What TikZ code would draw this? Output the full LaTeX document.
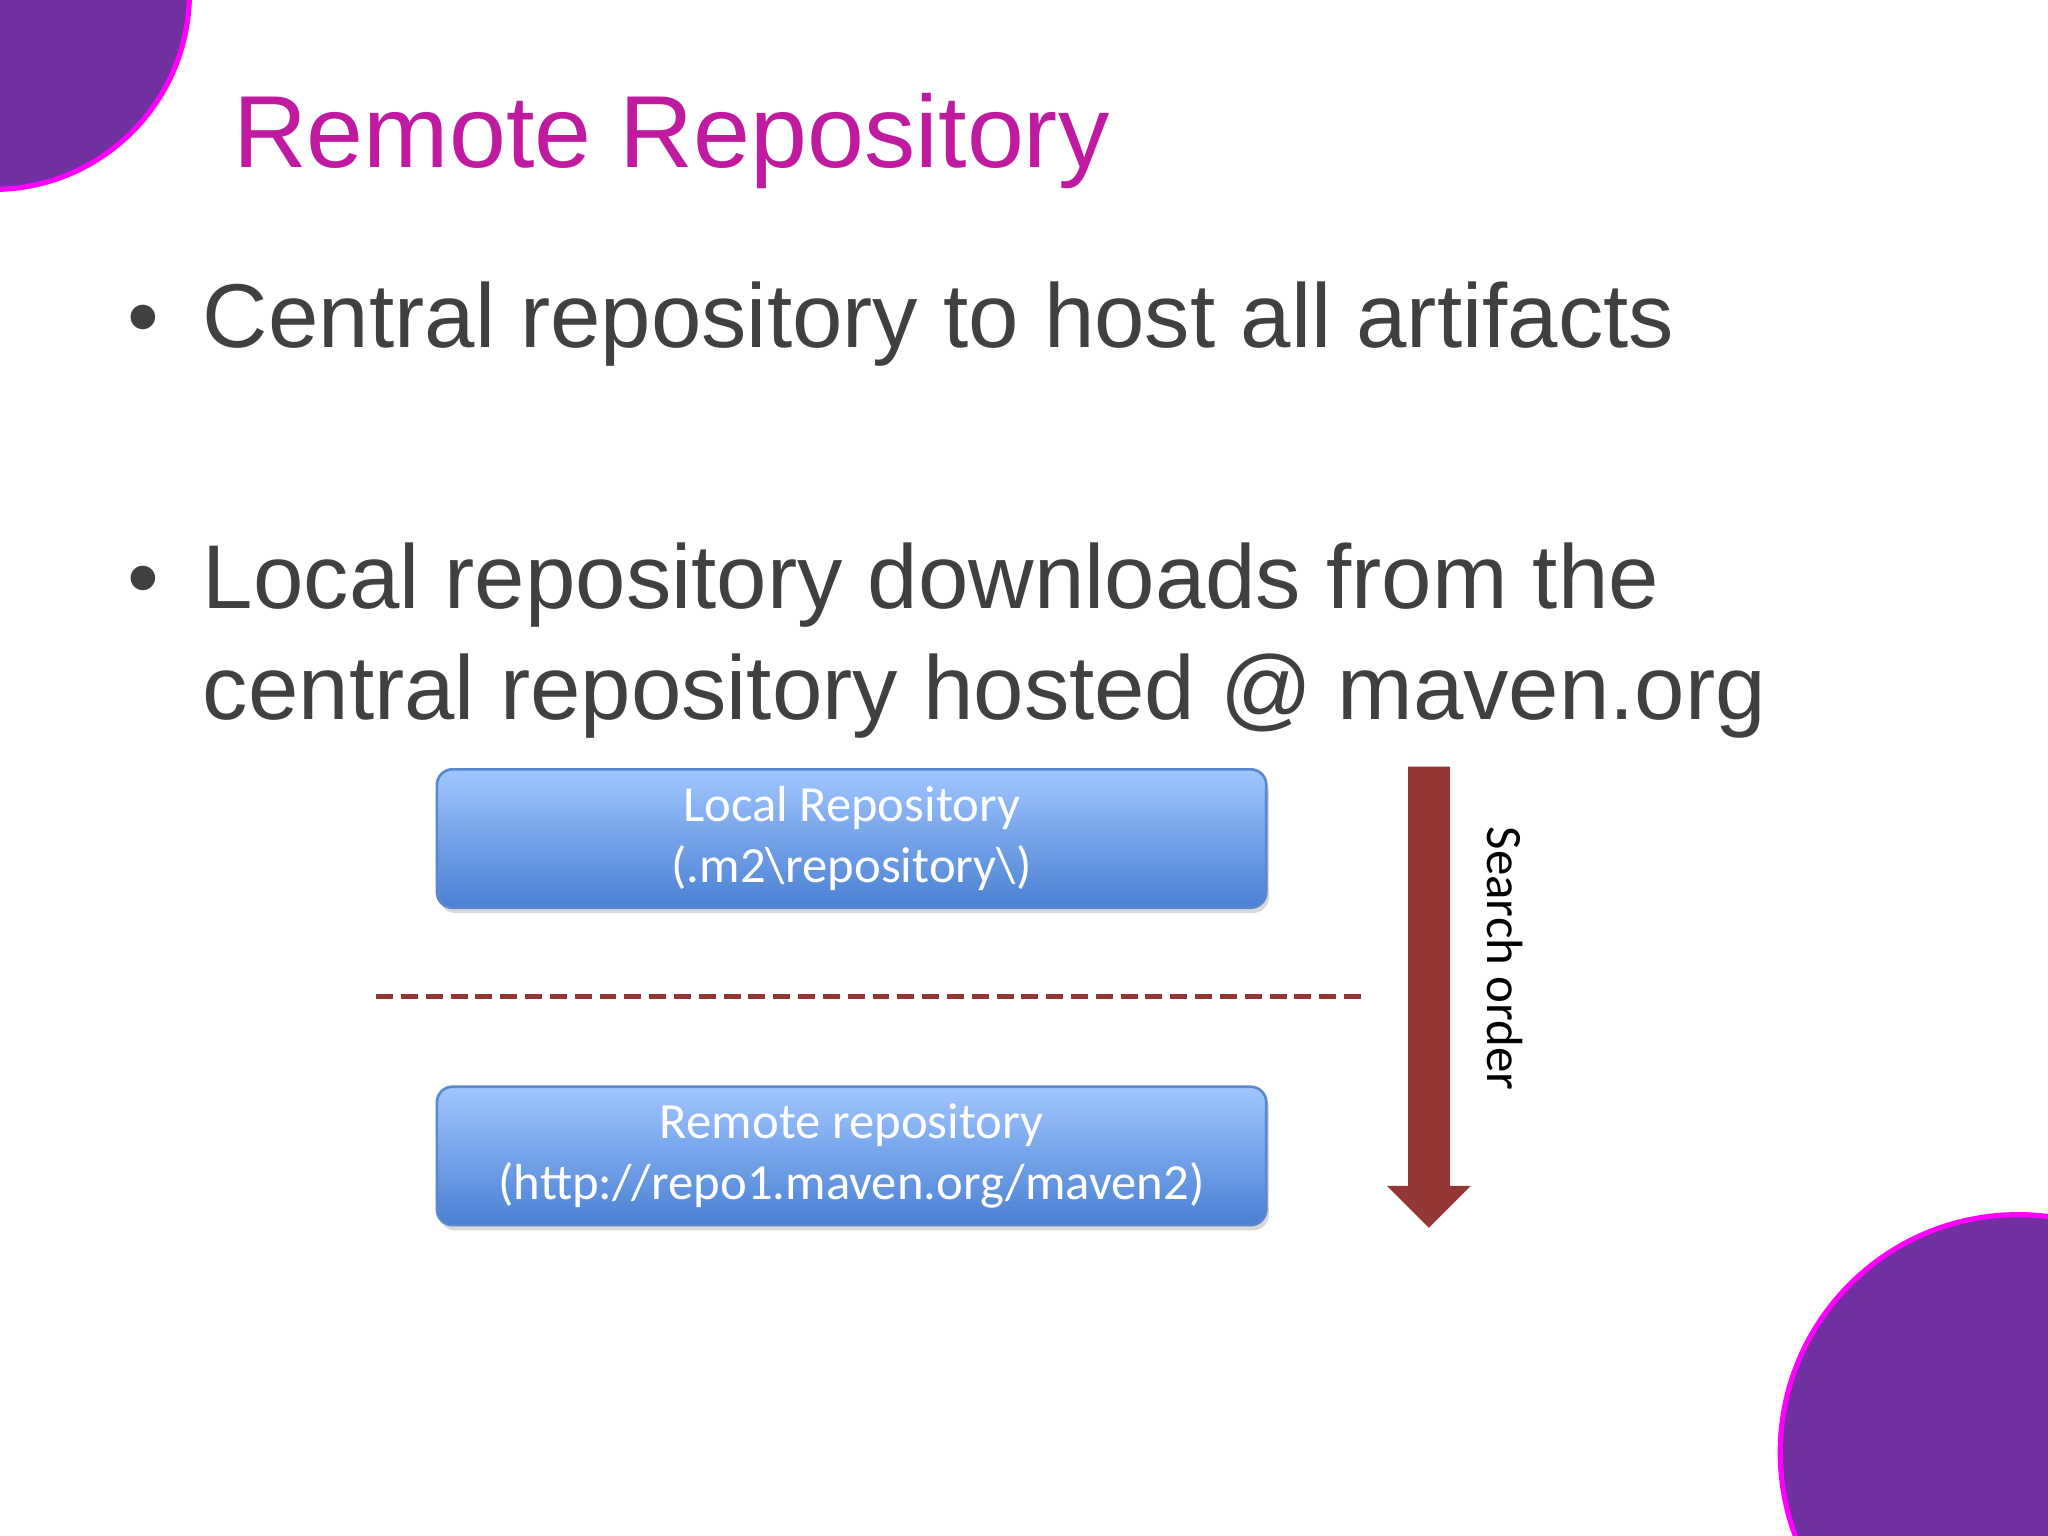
\documentclass[tikz,border=0pt]{standalone}
\usepackage{fontspec}
\setmainfont{Liberation Sans}
\newfontfamily\carlitofont{Carlito}
\usetikzlibrary{shadows}
\definecolor{titlec}{RGB}{192,26,160}
\definecolor{txt}{RGB}{64,64,64}
\definecolor{purp}{RGB}{112,48,160}
\definecolor{mag}{RGB}{255,0,255}
\definecolor{boxtop}{RGB}{160,198,255}
\definecolor{boxbot}{RGB}{74,128,210}
\definecolor{boxline}{RGB}{90,135,205}
\definecolor{darkred}{RGB}{148,54,52}
\tikzset{
 repobox/.style={draw=boxline, line width=1pt, rounded corners=6pt, top color=boxtop, bottom color=boxbot, minimum width=317.5pt, minimum height=53pt, align=center, text=white, font=\carlitofont\fontsize{19.4}{23.5}\selectfont, drop shadow={opacity=0.3, shadow xshift=1pt, shadow yshift=-2pt}},
 bullet/.style={anchor=base west, text=txt, font=\fontsize{34.7}{42}\selectfont, inner sep=0pt}
}
\begin{document}
\begin{tikzpicture}[x=0.5pt,y=-0.5pt]
\useasboundingbox (0,0) rectangle (1568,1176);
\begin{scope}
\clip (0,0) rectangle (1568,1176);
\fill[purp] (-5,-5) circle (150);
\draw[mag, line width=2pt] (-5,-5) circle (150);
\fill[purp] (1545,1112) circle (182);
\draw[mag, line width=2pt] (1545,1112) circle (182);
\end{scope}
\node[anchor=base west, inner sep=0pt, text=titlec, font=\fontsize{39.2}{48}\selectfont] (title) at (178,128) {Remote Repository};
\node[bullet] (b1) at (97,266) {•};
\node[bullet] (t1) at (155,266) {Central repository to host all artifacts};
\node[bullet] (b2) at (97,466) {•};
\node[bullet] (t2) at (155,466) {Local repository downloads from the};
\node[bullet] (t3) at (155,551) {central repository hosted @ maven.org};
\node[repobox] (local) at (652,642) {Local Repository\\(.m2\textbackslash repository\textbackslash)};
\node[repobox] (remote) at (652,885) {Remote repository\\(http://repo1.maven.org/maven2)};
\coordinate (d1) at (288,763);
\coordinate (d2) at (1046,763);
\draw[darkred, line width=1.8pt, dash pattern=on 6.5pt off 3pt] (d1) -- (d2);
\coordinate (a1) at (1094,587);
\coordinate (a2) at (1094,940);
\fill[darkred] (1078,587) -- (1110,587) -- (1110,908) -- (1126,908) -- (a2) -- (1062,908) -- (1078,908) -- cycle;
\node[rotate=-90, font=\carlitofont\fontsize{19.5}{22}\selectfont, inner sep=0pt] (so) at (1152,734) {Search order};
\end{tikzpicture}
\end{document}
